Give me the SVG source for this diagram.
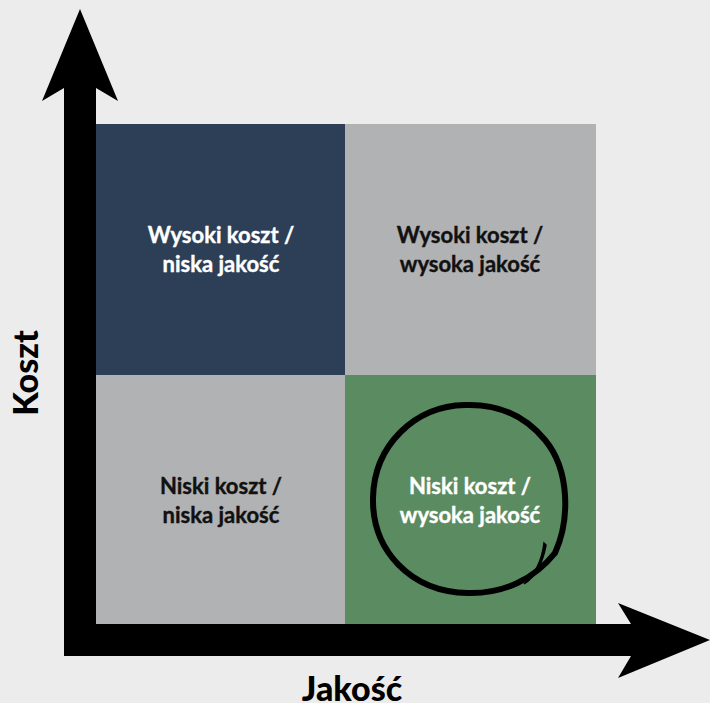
<svg xmlns="http://www.w3.org/2000/svg" width="710" height="703" viewBox="0 0 710 703">
<style>
.q{font-family:Lato,"Source Sans Pro","Liberation Sans",sans-serif;font-weight:700;font-size:22px;text-anchor:middle}
.w{fill:#ffffff;stroke:#ffffff;stroke-width:0.4}.k{fill:#111111;stroke:#111111;stroke-width:0.4}
.ax{font-family:Lato,"Liberation Sans",sans-serif;font-weight:900;font-size:34px;fill:#000;text-anchor:middle}
</style>
<rect width="710" height="703" fill="#ececec"/>
<g id="q-tl"><rect x="96" y="124" width="249" height="251" fill="#2c3f57"/>
<text class="q w" x="221" y="243">Wysoki koszt /</text><text class="q w" x="221" y="272">niska jakość</text></g>
<g id="q-tr"><rect x="345" y="124" width="251" height="251" fill="#b1b2b3"/>
<text class="q k" x="470" y="243">Wysoki koszt /</text><text class="q k" x="470" y="272">wysoka jakość</text></g>
<g id="q-bl"><rect x="96" y="375" width="249" height="249" fill="#b1b2b3"/>
<text class="q k" x="221" y="494">Niski koszt /</text><text class="q k" x="221" y="523">niska jakość</text></g>
<g id="q-br"><rect x="345" y="375" width="251" height="249" fill="#5a8b61"/>
<path d="M555,553 C570,520 570,470 545,440 C520,410 490,404 465,405 C415,406 374,445 373,498 C372,550 410,592 468,593 C505,594 535,578 555,553" fill="none" stroke="#000" stroke-width="6" stroke-linecap="round"/>
<path d="M544,543 C542,560 535,574 524,584 C536,576 543,562 546,545 Z" fill="#000" stroke="#000" stroke-width="1.5"/>
<text class="q w" x="470" y="494">Niski koszt /</text><text class="q w" x="470" y="523">wysoka jakość</text></g>
<g id="connectors">
<polygon id="axis-y" points="80,9 118,101 96,88 96,656 64,656 64,88 42,101" fill="#000"/>
<polygon id="axis-x" points="710,640 618,678 631,656 64,656 64,624 631,624 618,603" fill="#000"/>
</g>
<g id="label-x"><text class="ax" x="352" y="701">Jakość</text></g>
<g id="label-y"><text class="ax" transform="translate(38,373) rotate(-90)">Koszt</text></g>
</svg>
